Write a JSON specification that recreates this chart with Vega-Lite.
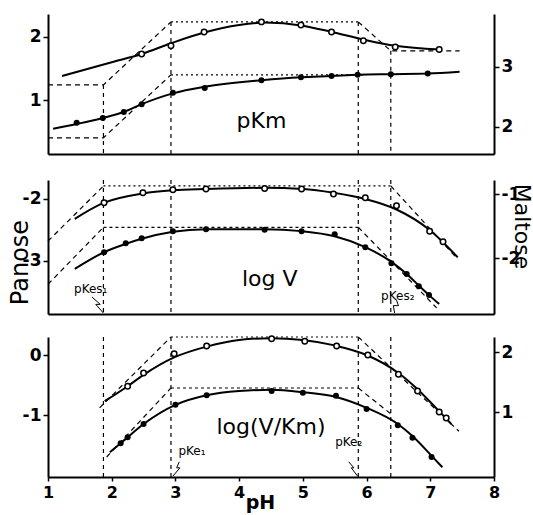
{
  "$schema": "https://vega.github.io/schema/vega-lite/v6.json",
  "autosize": {"type": "pad"},
  "padding": {"left": 8, "top": 14, "right": 12, "bottom": 5},
  "background": "white",
  "spacing": 24,
  "config": {
    "view": {"stroke": null},
    "axis": {"grid": false, "domainColor": "black", "domainWidth": 2, "tickColor": "black", "tickWidth": 1.5, "tickSize": 5, "labelColor": "black", "labelFont": "DejaVu Sans", "labelFontWeight": "bold", "labelFontSize": 17, "labelPadding": 2, "titleColor": "black", "titleFont": "DejaVu Sans", "labelFlush": false, "labelOverlap": false}
  },
  "datasets": {
    "curves": [
      {"panel":1,"series":"Panose","pH":1.22,"v":1.38},{"panel":1,"series":"Panose","pH":2.0,"v":1.60},{"panel":1,"series":"Panose","pH":2.47,"v":1.73},{"panel":1,"series":"Panose","pH":2.93,"v":1.90},{"panel":1,"series":"Panose","pH":3.45,"v":2.07},{"panel":1,"series":"Panose","pH":4.0,"v":2.19},{"panel":1,"series":"Panose","pH":4.4,"v":2.23},{"panel":1,"series":"Panose","pH":5.0,"v":2.18},{"panel":1,"series":"Panose","pH":5.45,"v":2.08},{"panel":1,"series":"Panose","pH":5.95,"v":1.96},{"panel":1,"series":"Panose","pH":6.45,"v":1.86},{"panel":1,"series":"Panose","pH":7.15,"v":1.80},
      {"panel":1,"series":"Maltose","pH":1.08,"v":1.97},{"panel":1,"series":"Maltose","pH":1.45,"v":2.05},{"panel":1,"series":"Maltose","pH":1.86,"v":2.15},{"panel":1,"series":"Maltose","pH":2.19,"v":2.25},{"panel":1,"series":"Maltose","pH":2.47,"v":2.38},{"panel":1,"series":"Maltose","pH":2.96,"v":2.56},{"panel":1,"series":"Maltose","pH":3.46,"v":2.67},{"panel":1,"series":"Maltose","pH":4.35,"v":2.78},{"panel":1,"series":"Maltose","pH":4.97,"v":2.83},{"panel":1,"series":"Maltose","pH":5.45,"v":2.85},{"panel":1,"series":"Maltose","pH":5.86,"v":2.87},{"panel":1,"series":"Maltose","pH":6.38,"v":2.88},{"panel":1,"series":"Maltose","pH":6.96,"v":2.89},{"panel":1,"series":"Maltose","pH":7.46,"v":2.92},
      {"panel":2,"series":"Panose","pH":1.42,"v":-2.32},{"panel":2,"series":"Panose","pH":1.88,"v":-2.06},{"panel":2,"series":"Panose","pH":2.49,"v":-1.91},{"panel":2,"series":"Panose","pH":2.96,"v":-1.86},{"panel":2,"series":"Panose","pH":3.48,"v":-1.84},{"panel":2,"series":"Panose","pH":4.4,"v":-1.82},{"panel":2,"series":"Panose","pH":5.0,"v":-1.84},{"panel":2,"series":"Panose","pH":5.48,"v":-1.90},{"panel":2,"series":"Panose","pH":5.98,"v":-2.00},{"panel":2,"series":"Panose","pH":6.47,"v":-2.17},{"panel":2,"series":"Panose","pH":6.99,"v":-2.50},{"panel":2,"series":"Panose","pH":7.43,"v":-2.94},
      {"panel":2,"series":"Maltose","pH":1.42,"v":-2.17},{"panel":2,"series":"Maltose","pH":1.88,"v":-1.91},{"panel":2,"series":"Maltose","pH":2.22,"v":-1.78},{"panel":2,"series":"Maltose","pH":2.47,"v":-1.70},{"panel":2,"series":"Maltose","pH":2.96,"v":-1.59},{"panel":2,"series":"Maltose","pH":3.48,"v":-1.55},{"panel":2,"series":"Maltose","pH":4.4,"v":-1.55},{"panel":2,"series":"Maltose","pH":4.98,"v":-1.58},{"panel":2,"series":"Maltose","pH":5.5,"v":-1.66},{"panel":2,"series":"Maltose","pH":5.98,"v":-1.83},{"panel":2,"series":"Maltose","pH":6.39,"v":-2.06},{"panel":2,"series":"Maltose","pH":6.63,"v":-2.25},{"panel":2,"series":"Maltose","pH":6.82,"v":-2.43},{"panel":2,"series":"Maltose","pH":6.98,"v":-2.58},{"panel":2,"series":"Maltose","pH":7.14,"v":-2.72},
      {"panel":3,"series":"Panose","pH":1.89,"v":-0.77},{"panel":3,"series":"Panose","pH":2.25,"v":-0.52},{"panel":3,"series":"Panose","pH":2.5,"v":-0.33},{"panel":3,"series":"Panose","pH":2.98,"v":-0.04},{"panel":3,"series":"Panose","pH":3.49,"v":0.14},{"panel":3,"series":"Panose","pH":4.0,"v":0.25},{"panel":3,"series":"Panose","pH":4.5,"v":0.28},{"panel":3,"series":"Panose","pH":5.0,"v":0.25},{"panel":3,"series":"Panose","pH":5.5,"v":0.16},{"panel":3,"series":"Panose","pH":6.0,"v":0.0},{"panel":3,"series":"Panose","pH":6.5,"v":-0.30},{"panel":3,"series":"Panose","pH":6.8,"v":-0.57},{"panel":3,"series":"Panose","pH":7.14,"v":-0.94},{"panel":3,"series":"Panose","pH":7.33,"v":-1.15},
      {"panel":3,"series":"Maltose","pH":1.97,"v":0.33},{"panel":3,"series":"Maltose","pH":2.14,"v":0.48},{"panel":3,"series":"Maltose","pH":2.25,"v":0.58},{"panel":3,"series":"Maltose","pH":2.5,"v":0.80},{"panel":3,"series":"Maltose","pH":3.0,"v":1.12},{"panel":3,"series":"Maltose","pH":3.49,"v":1.28},{"panel":3,"series":"Maltose","pH":4.0,"v":1.35},{"panel":3,"series":"Maltose","pH":4.51,"v":1.37},{"panel":3,"series":"Maltose","pH":5.0,"v":1.33},{"panel":3,"series":"Maltose","pH":5.52,"v":1.25},{"panel":3,"series":"Maltose","pH":6.0,"v":1.07},{"panel":3,"series":"Maltose","pH":6.49,"v":0.80},{"panel":3,"series":"Maltose","pH":6.72,"v":0.60},{"panel":3,"series":"Maltose","pH":7.02,"v":0.27},{"panel":3,"series":"Maltose","pH":7.19,"v":0.08}
    ],
    "points": [
      {"panel":1,"series":"Panose","pH":2.47,"v":1.73},{"panel":1,"series":"Panose","pH":2.93,"v":1.86},{"panel":1,"series":"Panose","pH":3.45,"v":2.08},{"panel":1,"series":"Panose","pH":4.35,"v":2.24},{"panel":1,"series":"Panose","pH":4.97,"v":2.19},{"panel":1,"series":"Panose","pH":5.45,"v":2.08},{"panel":1,"series":"Panose","pH":5.95,"v":1.94},{"panel":1,"series":"Panose","pH":6.45,"v":1.84},{"panel":1,"series":"Panose","pH":7.14,"v":1.80},
      {"panel":1,"series":"Maltose","pH":1.45,"v":2.07},{"panel":1,"series":"Maltose","pH":1.86,"v":2.15},{"panel":1,"series":"Maltose","pH":2.19,"v":2.25},{"panel":1,"series":"Maltose","pH":2.47,"v":2.38},{"panel":1,"series":"Maltose","pH":2.96,"v":2.57},{"panel":1,"series":"Maltose","pH":3.46,"v":2.65},{"panel":1,"series":"Maltose","pH":4.35,"v":2.78},{"panel":1,"series":"Maltose","pH":4.97,"v":2.83},{"panel":1,"series":"Maltose","pH":5.45,"v":2.85},{"panel":1,"series":"Maltose","pH":5.86,"v":2.87},{"panel":1,"series":"Maltose","pH":6.38,"v":2.88},{"panel":1,"series":"Maltose","pH":6.96,"v":2.89},
      {"panel":2,"series":"Panose","pH":1.88,"v":-2.06},{"panel":2,"series":"Panose","pH":2.49,"v":-1.90},{"panel":2,"series":"Panose","pH":2.96,"v":-1.85},{"panel":2,"series":"Panose","pH":3.48,"v":-1.84},{"panel":2,"series":"Panose","pH":4.4,"v":-1.83},{"panel":2,"series":"Panose","pH":4.98,"v":-1.84},{"panel":2,"series":"Panose","pH":5.48,"v":-1.92},{"panel":2,"series":"Panose","pH":5.98,"v":-1.98},{"panel":2,"series":"Panose","pH":6.47,"v":-2.11},{"panel":2,"series":"Panose","pH":6.99,"v":-2.52},{"panel":2,"series":"Panose","pH":7.2,"v":-2.69},
      {"panel":2,"series":"Maltose","pH":1.88,"v":-1.91},{"panel":2,"series":"Maltose","pH":2.22,"v":-1.77},{"panel":2,"series":"Maltose","pH":2.47,"v":-1.69},{"panel":2,"series":"Maltose","pH":2.96,"v":-1.58},{"panel":2,"series":"Maltose","pH":3.48,"v":-1.55},{"panel":2,"series":"Maltose","pH":4.4,"v":-1.56},{"panel":2,"series":"Maltose","pH":4.98,"v":-1.58},{"panel":2,"series":"Maltose","pH":5.5,"v":-1.63},{"panel":2,"series":"Maltose","pH":5.98,"v":-1.83},{"panel":2,"series":"Maltose","pH":6.39,"v":-2.08},{"panel":2,"series":"Maltose","pH":6.63,"v":-2.25},{"panel":2,"series":"Maltose","pH":6.82,"v":-2.44},{"panel":2,"series":"Maltose","pH":6.98,"v":-2.58},
      {"panel":3,"series":"Panose","pH":2.25,"v":-0.52},{"panel":3,"series":"Panose","pH":2.5,"v":-0.30},{"panel":3,"series":"Panose","pH":2.98,"v":0.02},{"panel":3,"series":"Panose","pH":3.49,"v":0.15},{"panel":3,"series":"Panose","pH":4.51,"v":0.27},{"panel":3,"series":"Panose","pH":5.03,"v":0.23},{"panel":3,"series":"Panose","pH":5.53,"v":0.15},{"panel":3,"series":"Panose","pH":6.02,"v":0.0},{"panel":3,"series":"Panose","pH":6.5,"v":-0.32},{"panel":3,"series":"Panose","pH":6.8,"v":-0.60},{"panel":3,"series":"Panose","pH":7.14,"v":-0.95},{"panel":3,"series":"Panose","pH":7.25,"v":-1.05},
      {"panel":3,"series":"Maltose","pH":2.14,"v":0.48},{"panel":3,"series":"Maltose","pH":2.25,"v":0.58},{"panel":3,"series":"Maltose","pH":2.5,"v":0.80},{"panel":3,"series":"Maltose","pH":3.0,"v":1.12},{"panel":3,"series":"Maltose","pH":3.49,"v":1.28},{"panel":3,"series":"Maltose","pH":4.51,"v":1.35},{"panel":3,"series":"Maltose","pH":5.0,"v":1.32},{"panel":3,"series":"Maltose","pH":5.52,"v":1.27},{"panel":3,"series":"Maltose","pH":6.0,"v":1.05},{"panel":3,"series":"Maltose","pH":6.49,"v":0.78},{"panel":3,"series":"Maltose","pH":6.72,"v":0.57},{"panel":3,"series":"Maltose","pH":7.02,"v":0.25}
    ],
    "guides": [
      {"panel":1,"series":"Panose","part":"slope","seg":"a","pH":1.0,"v":1.24},{"panel":1,"series":"Panose","part":"slope","seg":"a","pH":1.87,"v":1.24},{"panel":1,"series":"Panose","part":"slope","seg":"a","pH":2.93,"v":2.24},
      {"panel":1,"series":"Panose","part":"plateau","seg":"b","pH":2.93,"v":2.24},{"panel":1,"series":"Panose","part":"plateau","seg":"b","pH":5.87,"v":2.24},
      {"panel":1,"series":"Panose","part":"slope","seg":"c","pH":5.87,"v":2.24},{"panel":1,"series":"Panose","part":"slope","seg":"c","pH":6.38,"v":1.78},{"panel":1,"series":"Panose","part":"slope","seg":"c","pH":7.46,"v":1.78},
      {"panel":1,"series":"Maltose","part":"slope","seg":"a","pH":1.0,"v":1.82},{"panel":1,"series":"Maltose","part":"slope","seg":"a","pH":1.87,"v":1.82},{"panel":1,"series":"Maltose","part":"slope","seg":"a","pH":2.93,"v":2.87},
      {"panel":1,"series":"Maltose","part":"plateau","seg":"b","pH":2.93,"v":2.87},{"panel":1,"series":"Maltose","part":"plateau","seg":"b","pH":6.0,"v":2.87},
      {"panel":2,"series":"Panose","part":"slope","seg":"a","pH":1.0,"v":-2.68},{"panel":2,"series":"Panose","part":"slope","seg":"a","pH":1.87,"v":-1.79},
      {"panel":2,"series":"Panose","part":"plateau","seg":"b","pH":1.87,"v":-1.79},{"panel":2,"series":"Panose","part":"plateau","seg":"b","pH":6.38,"v":-1.79},
      {"panel":2,"series":"Panose","part":"slope","seg":"c","pH":6.38,"v":-1.79},{"panel":2,"series":"Panose","part":"slope","seg":"c","pH":7.43,"v":-2.97},
      {"panel":2,"series":"Maltose","part":"slope","seg":"a","pH":1.0,"v":-2.41},{"panel":2,"series":"Maltose","part":"slope","seg":"a","pH":1.87,"v":-1.52},
      {"panel":2,"series":"Maltose","part":"plateau","seg":"b","pH":1.87,"v":-1.52},{"panel":2,"series":"Maltose","part":"plateau","seg":"b","pH":5.87,"v":-1.52},
      {"panel":2,"series":"Maltose","part":"slope","seg":"c","pH":5.87,"v":-1.52},{"panel":2,"series":"Maltose","part":"slope","seg":"c","pH":7.1,"v":-2.78},
      {"panel":3,"series":"Panose","part":"slope","seg":"a","pH":1.81,"v":-0.88},{"panel":3,"series":"Panose","part":"slope","seg":"a","pH":2.93,"v":0.30},
      {"panel":3,"series":"Panose","part":"plateau","seg":"b","pH":2.93,"v":0.30},{"panel":3,"series":"Panose","part":"plateau","seg":"b","pH":5.87,"v":0.30},
      {"panel":3,"series":"Panose","part":"slope","seg":"c","pH":5.87,"v":0.30},{"panel":3,"series":"Panose","part":"slope","seg":"c","pH":7.45,"v":-1.27},
      {"panel":3,"series":"Maltose","part":"slope","seg":"a","pH":1.92,"v":0.25},{"panel":3,"series":"Maltose","part":"slope","seg":"a","pH":2.93,"v":1.40},
      {"panel":3,"series":"Maltose","part":"plateau","seg":"b","pH":2.93,"v":1.40},{"panel":3,"series":"Maltose","part":"plateau","seg":"b","pH":5.87,"v":1.40},
      {"panel":3,"series":"Maltose","part":"slope","seg":"c","pH":5.87,"v":1.40},{"panel":3,"series":"Maltose","part":"slope","seg":"c","pH":6.38,"v":0.97}
    ],
    "verticals": [
      {"panel":1,"pH":1.87,"v":1.24,"v2":0.143},{"panel":1,"pH":2.93,"v":2.24,"v2":0.143},{"panel":1,"pH":5.87,"v":2.24,"v2":0.143},{"panel":1,"pH":6.38,"v":1.78,"v2":0.143},
      {"panel":2,"pH":1.87,"v":-1.694,"v2":-3.855},{"panel":2,"pH":2.93,"v":-1.694,"v2":-3.855},{"panel":2,"pH":5.87,"v":-1.694,"v2":-3.855},{"panel":2,"pH":6.38,"v":-1.694,"v2":-3.855},
      {"panel":3,"pH":1.87,"v":0.30,"v2":-2.033},{"panel":3,"pH":2.93,"v":0.30,"v2":-2.033},{"panel":3,"pH":5.87,"v":0.30,"v2":-2.033},{"panel":3,"pH":6.38,"v":0.30,"v2":-2.033}
    ],
    "labels": [
      {"panel":1,"kind":"name","pH":4.35,"v":0.67,"text":"pKm"},
      {"panel":2,"kind":"name","pH":4.48,"v":-3.29,"text":"log V"},
      {"panel":2,"kind":"pK","pH":1.67,"v":-3.45,"text":"pKes₁"},
      {"panel":2,"kind":"pK","pH":6.49,"v":-3.56,"text":"pKes₂"},
      {"panel":3,"kind":"name","pH":4.5,"v":-1.2,"text":"log(V/Km)"},
      {"panel":3,"kind":"pK","pH":3.26,"v":-1.60,"text":"pKe₁"},
      {"panel":3,"kind":"pK","pH":5.72,"v":-1.45,"text":"pKe₂"}
    ],
    "arrows": [
      {"panel":2,"seg":"s1","i":1,"pH":1.69,"v":-3.58},{"panel":2,"seg":"s1","i":2,"pH":1.82,"v":-3.70},{"panel":2,"seg":"s1","i":3,"pH":1.75,"v":-3.70},{"panel":2,"seg":"s1","i":4,"pH":1.87,"v":-3.84},
      {"panel":2,"seg":"s2","i":1,"pH":6.47,"v":-3.63},{"panel":2,"seg":"s2","i":2,"pH":6.50,"v":-3.72},{"panel":2,"seg":"s2","i":3,"pH":6.42,"v":-3.72},{"panel":2,"seg":"s2","i":4,"pH":6.44,"v":-3.84},
      {"panel":3,"seg":"e1","i":1,"pH":3.06,"v":-1.78},{"panel":3,"seg":"e1","i":2,"pH":3.02,"v":-1.88},{"panel":3,"seg":"e1","i":3,"pH":3.07,"v":-1.88},{"panel":3,"seg":"e1","i":4,"pH":2.96,"v":-2.02},
      {"panel":3,"seg":"e2","i":1,"pH":5.72,"v":-1.78},{"panel":3,"seg":"e2","i":2,"pH":5.80,"v":-1.88},{"panel":3,"seg":"e2","i":3,"pH":5.76,"v":-1.88},{"panel":3,"seg":"e2","i":4,"pH":5.86,"v":-2.02}
    ]
  },
  "vconcat": [
    {
      "width": 446, "height": 140,
      "resolve": {"scale": {"y": "independent"}},
      "layer": [
        {
          "encoding": {
            "x": {"field": "pH", "type": "quantitative", "scale": {"domain": [1, 8], "nice": false, "zero": false}, "axis": {"labels": false, "ticks": false, "title": null}},
            "y": {"field": "v", "type": "quantitative", "scale": {"domain": [0.143, 2.365], "nice": false, "zero": false}, "axis": {"orient": "left", "values": [1, 2], "title": null, "labelExpr": "'' + datum.value"}}
          },
          "layer": [
            {"data": {"name": "verticals"}, "transform": [{"filter": "datum.panel == 1"}], "mark": {"type": "rule", "stroke": "black", "strokeWidth": 1.2, "strokeDash": [4, 4]}, "encoding": {"y2": {"field": "v2"}}},
            {"data": {"name": "guides"}, "transform": [{"filter": "datum.panel == 1 && datum.series == 'Panose' && datum.part == 'slope'"}], "mark": {"type": "line", "stroke": "black", "strokeWidth": 1.2, "strokeDash": [5, 4]}, "encoding": {"detail": {"field": "seg"}}},
            {"data": {"name": "guides"}, "transform": [{"filter": "datum.panel == 1 && datum.series == 'Panose' && datum.part == 'plateau'"}], "mark": {"type": "line", "stroke": "black", "strokeWidth": 1.2, "strokeDash": [2, 3]}, "encoding": {"detail": {"field": "seg"}}},
            {"data": {"name": "curves"}, "transform": [{"filter": "datum.panel == 1 && datum.series == 'Panose'"}], "mark": {"type": "line", "stroke": "black", "strokeWidth": 2, "interpolate": "monotone"}},
            {"data": {"name": "points"}, "transform": [{"filter": "datum.panel == 1 && datum.series == 'Panose'"}], "mark": {"type": "point", "shape": "circle", "filled": false, "fill": "white", "fillOpacity": 1, "stroke": "black", "strokeWidth": 1.5, "size": 30, "opacity": 1}},
            {"data": {"name": "labels"}, "transform": [{"filter": "datum.panel == 1 && datum.kind == 'name'"}], "mark": {"type": "text", "font": "DejaVu Sans", "fontSize": 22, "color": "black", "align": "center", "baseline": "middle"}, "encoding": {"text": {"field": "text"}}}
          ]
        },
        {
          "encoding": {
            "x": {"field": "pH", "type": "quantitative", "scale": {"domain": [1, 8], "nice": false, "zero": false}, "axis": {"labels": false, "ticks": false, "title": null}},
            "y": {"field": "v", "type": "quantitative", "scale": {"domain": [1.55, 3.883], "nice": false, "zero": false}, "axis": {"orient": "right", "values": [2, 3], "title": null, "labelExpr": "'' + datum.value"}}
          },
          "layer": [
            {"data": {"name": "guides"}, "transform": [{"filter": "datum.panel == 1 && datum.series == 'Maltose' && datum.part == 'slope'"}], "mark": {"type": "line", "stroke": "black", "strokeWidth": 1.2, "strokeDash": [5, 4]}, "encoding": {"detail": {"field": "seg"}}},
            {"data": {"name": "guides"}, "transform": [{"filter": "datum.panel == 1 && datum.series == 'Maltose' && datum.part == 'plateau'"}], "mark": {"type": "line", "stroke": "black", "strokeWidth": 1.2, "strokeDash": [2, 3]}, "encoding": {"detail": {"field": "seg"}}},
            {"data": {"name": "curves"}, "transform": [{"filter": "datum.panel == 1 && datum.series == 'Maltose'"}], "mark": {"type": "line", "stroke": "black", "strokeWidth": 2, "interpolate": "monotone"}},
            {"data": {"name": "points"}, "transform": [{"filter": "datum.panel == 1 && datum.series == 'Maltose'"}], "mark": {"type": "circle", "color": "black", "size": 36, "opacity": 1}}
          ]
        }
      ]
    },
    {
      "spacing": 17,
      "vconcat": [
        {
          "width": 446, "height": 134,
          "resolve": {"scale": {"y": "independent"}},
          "layer": [
            {
              "encoding": {
                "x": {"field": "pH", "type": "quantitative", "scale": {"domain": [1, 8], "nice": false, "zero": false}, "axis": {"labels": false, "ticks": false, "title": null}},
                "y": {"field": "v", "type": "quantitative", "scale": {"domain": [-3.855, -1.694], "nice": false, "zero": false}, "axis": {"orient": "left", "values": [-3, -2], "labelExpr": "'' + datum.value", "title": "Panose", "titleFontSize": 24, "titleFontWeight": "normal", "titleAngle": -90, "titleBaseline": "middle", "titleAlign": "center", "titleX": -28, "titleY": 82}}
              },
              "layer": [
                {"data": {"name": "verticals"}, "transform": [{"filter": "datum.panel == 2"}], "mark": {"type": "rule", "stroke": "black", "strokeWidth": 1.2, "strokeDash": [4, 4]}, "encoding": {"y2": {"field": "v2"}}},
                {"data": {"name": "guides"}, "transform": [{"filter": "datum.panel == 2 && datum.series == 'Panose' && datum.part == 'slope'"}], "mark": {"type": "line", "stroke": "black", "strokeWidth": 1.2, "strokeDash": [5, 4]}, "encoding": {"detail": {"field": "seg"}}},
                {"data": {"name": "guides"}, "transform": [{"filter": "datum.panel == 2 && datum.series == 'Panose' && datum.part == 'plateau'"}], "mark": {"type": "line", "stroke": "black", "strokeWidth": 1.2, "strokeDash": [2, 3]}, "encoding": {"detail": {"field": "seg"}}},
                {"data": {"name": "curves"}, "transform": [{"filter": "datum.panel == 2 && datum.series == 'Panose'"}], "mark": {"type": "line", "stroke": "black", "strokeWidth": 2, "interpolate": "monotone"}},
                {"data": {"name": "points"}, "transform": [{"filter": "datum.panel == 2 && datum.series == 'Panose'"}], "mark": {"type": "point", "shape": "circle", "filled": false, "fill": "white", "fillOpacity": 1, "stroke": "black", "strokeWidth": 1.5, "size": 30, "opacity": 1}},
                {"data": {"name": "arrows"}, "transform": [{"filter": "datum.panel == 2"}], "mark": {"type": "line", "stroke": "black", "strokeWidth": 1}, "encoding": {"detail": {"field": "seg"}, "order": {"field": "i"}}},
                {"data": {"name": "labels"}, "transform": [{"filter": "datum.panel == 2 && datum.kind == 'name'"}], "mark": {"type": "text", "font": "DejaVu Sans", "fontSize": 22, "color": "black", "align": "center", "baseline": "middle"}, "encoding": {"text": {"field": "text"}}},
                {"data": {"name": "labels"}, "transform": [{"filter": "datum.panel == 2 && datum.kind == 'pK'"}], "mark": {"type": "text", "font": "DejaVu Sans", "fontSize": 12, "color": "black", "align": "center", "baseline": "middle"}, "encoding": {"text": {"field": "text"}}}
              ]
            },
            {
              "encoding": {
                "x": {"field": "pH", "type": "quantitative", "scale": {"domain": [1, 8], "nice": false, "zero": false}, "axis": {"labels": false, "ticks": false, "title": null}},
                "y": {"field": "v", "type": "quantitative", "scale": {"domain": [-2.875, -0.781], "nice": false, "zero": false}, "axis": {"orient": "right", "values": [-2, -1], "labelExpr": "'' + datum.value", "title": "Maltose", "titleFontSize": 22, "titleFontWeight": "normal", "titleAngle": 90, "titleBaseline": "middle", "titleAlign": "center", "titleX": 27, "titleY": 46}}
              },
              "layer": [
                {"data": {"name": "guides"}, "transform": [{"filter": "datum.panel == 2 && datum.series == 'Maltose' && datum.part == 'slope'"}], "mark": {"type": "line", "stroke": "black", "strokeWidth": 1.2, "strokeDash": [5, 4]}, "encoding": {"detail": {"field": "seg"}}},
                {"data": {"name": "guides"}, "transform": [{"filter": "datum.panel == 2 && datum.series == 'Maltose' && datum.part == 'plateau'"}], "mark": {"type": "line", "stroke": "black", "strokeWidth": 1.2, "strokeDash": [3, 3]}, "encoding": {"detail": {"field": "seg"}}},
                {"data": {"name": "curves"}, "transform": [{"filter": "datum.panel == 2 && datum.series == 'Maltose'"}], "mark": {"type": "line", "stroke": "black", "strokeWidth": 2, "interpolate": "monotone"}},
                {"data": {"name": "points"}, "transform": [{"filter": "datum.panel == 2 && datum.series == 'Maltose'"}], "mark": {"type": "circle", "color": "black", "size": 36, "opacity": 1}}
              ]
            }
          ]
        },
        {
          "width": 446, "height": 140,
          "resolve": {"scale": {"y": "independent"}},
          "layer": [
            {
              "encoding": {
                "x": {"field": "pH", "type": "quantitative", "scale": {"domain": [1, 8], "nice": false, "zero": false}, "axis": {"values": [1, 2, 3, 4, 5, 6, 7, 8], "tickSize": 4, "labelPadding": 3, "labelFontSize": 16, "title": "pH", "titleFontSize": 19, "titleFontWeight": "bold", "titleBaseline": "top", "titleAlign": "center", "titleX": 212, "titleY": 16}},
                "y": {"field": "v", "type": "quantitative", "scale": {"domain": [-2.033, 0.30], "nice": false, "zero": false}, "axis": {"orient": "left", "values": [-1, 0], "title": null, "labelExpr": "'' + datum.value"}}
              },
              "layer": [
                {"data": {"name": "verticals"}, "transform": [{"filter": "datum.panel == 3"}], "mark": {"type": "rule", "stroke": "black", "strokeWidth": 1.2, "strokeDash": [4, 4]}, "encoding": {"y2": {"field": "v2"}}},
                {"data": {"name": "guides"}, "transform": [{"filter": "datum.panel == 3 && datum.series == 'Panose' && datum.part == 'slope'"}], "mark": {"type": "line", "stroke": "black", "strokeWidth": 1.2, "strokeDash": [5, 4]}, "encoding": {"detail": {"field": "seg"}}},
                {"data": {"name": "guides"}, "transform": [{"filter": "datum.panel == 3 && datum.series == 'Panose' && datum.part == 'plateau'"}], "mark": {"type": "line", "stroke": "black", "strokeWidth": 1.2, "strokeDash": [2, 3]}, "encoding": {"detail": {"field": "seg"}}},
                {"data": {"name": "curves"}, "transform": [{"filter": "datum.panel == 3 && datum.series == 'Panose'"}], "mark": {"type": "line", "stroke": "black", "strokeWidth": 2, "interpolate": "monotone"}},
                {"data": {"name": "points"}, "transform": [{"filter": "datum.panel == 3 && datum.series == 'Panose'"}], "mark": {"type": "point", "shape": "circle", "filled": false, "fill": "white", "fillOpacity": 1, "stroke": "black", "strokeWidth": 1.5, "size": 30, "opacity": 1}},
                {"data": {"name": "arrows"}, "transform": [{"filter": "datum.panel == 3"}], "mark": {"type": "line", "stroke": "black", "strokeWidth": 1}, "encoding": {"detail": {"field": "seg"}, "order": {"field": "i"}}},
                {"data": {"name": "labels"}, "transform": [{"filter": "datum.panel == 3 && datum.kind == 'name'"}], "mark": {"type": "text", "font": "DejaVu Sans", "fontSize": 22, "color": "black", "align": "center", "baseline": "middle"}, "encoding": {"text": {"field": "text"}}},
                {"data": {"name": "labels"}, "transform": [{"filter": "datum.panel == 3 && datum.kind == 'pK'"}], "mark": {"type": "text", "font": "DejaVu Sans", "fontSize": 12, "color": "black", "align": "center", "baseline": "middle"}, "encoding": {"text": {"field": "text"}}}
              ]
            },
            {
              "encoding": {
                "x": {"field": "pH", "type": "quantitative", "scale": {"domain": [1, 8], "nice": false, "zero": false}, "axis": {"values": [1, 2, 3, 4, 5, 6, 7, 8], "tickSize": 4, "labelPadding": 3, "labelFontSize": 16, "title": "pH", "titleFontSize": 19, "titleFontWeight": "bold", "titleBaseline": "top", "titleAlign": "center", "titleX": 212, "titleY": 16}},
                "y": {"field": "v", "type": "quantitative", "scale": {"domain": [-0.083, 2.25], "nice": false, "zero": false}, "axis": {"orient": "right", "values": [1, 2], "title": null, "labelExpr": "'' + datum.value"}}
              },
              "layer": [
                {"data": {"name": "guides"}, "transform": [{"filter": "datum.panel == 3 && datum.series == 'Maltose' && datum.part == 'slope'"}], "mark": {"type": "line", "stroke": "black", "strokeWidth": 1.2, "strokeDash": [5, 4]}, "encoding": {"detail": {"field": "seg"}}},
                {"data": {"name": "guides"}, "transform": [{"filter": "datum.panel == 3 && datum.series == 'Maltose' && datum.part == 'plateau'"}], "mark": {"type": "line", "stroke": "black", "strokeWidth": 1.2, "strokeDash": [3, 3]}, "encoding": {"detail": {"field": "seg"}}},
                {"data": {"name": "curves"}, "transform": [{"filter": "datum.panel == 3 && datum.series == 'Maltose'"}], "mark": {"type": "line", "stroke": "black", "strokeWidth": 2, "interpolate": "monotone"}},
                {"data": {"name": "points"}, "transform": [{"filter": "datum.panel == 3 && datum.series == 'Maltose'"}], "mark": {"type": "circle", "color": "black", "size": 36, "opacity": 1}}
              ]
            }
          ]
        }
      ]
    }
  ]
}
